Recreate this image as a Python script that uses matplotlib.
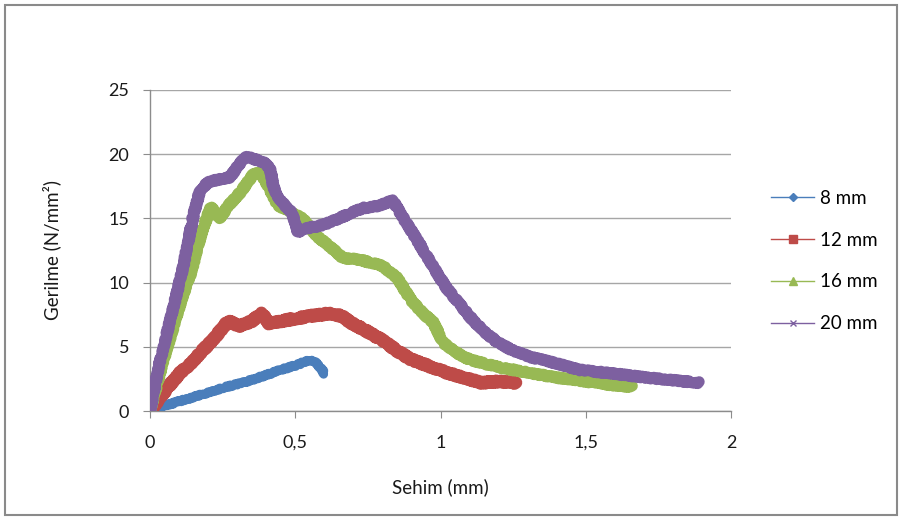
import matplotlib
matplotlib.use("Agg")
import matplotlib.pyplot as plt
from matplotlib.patches import Rectangle

# Sehim (mm) / Gerilme (N/mm²) readings for each specimen
x_8 = [0, 0.05, 0.1, 0.18, 0.25, 0.32, 0.4, 0.45, 0.5, 0.53, 0.55, 0.57, 0.59, 0.6]
y_8 = [0, 0.4, 0.75, 1.3, 1.8, 2.2, 2.8, 3.2, 3.55, 3.8, 3.95, 3.8, 3.3, 2.9]

x_12 = [0, 0.03, 0.06, 0.1, 0.14, 0.18, 0.22, 0.25, 0.27, 0.31, 0.35, 0.385, 0.41, 0.45,
        0.5, 0.55, 0.62, 0.66, 0.69, 0.74, 0.8, 0.85, 0.9, 0.96, 1.02, 1.08, 1.14, 1.2, 1.26]
y_12 = [0, 0.9, 1.8, 2.9, 3.7, 4.7, 5.6, 6.5, 7.0, 6.6, 7.0, 7.6, 6.8, 7.0,
        7.2, 7.4, 7.6, 7.4, 6.9, 6.3, 5.5, 4.7, 4.0, 3.5, 3.0, 2.6, 2.2, 2.3, 2.2]

x_16 = [0, 0.04, 0.08, 0.11, 0.14, 0.18, 0.21, 0.24, 0.27, 0.31, 0.355, 0.38, 0.41, 0.44,
        0.48, 0.53, 0.575, 0.62, 0.665, 0.72, 0.8, 0.85, 0.9, 0.94, 0.975, 1.01, 1.05,
        1.1, 1.2, 1.3, 1.4, 1.5, 1.6, 1.66]
y_16 = [0, 3.5, 6.5, 8.8, 10.7, 14.1, 15.9, 15.0, 16.0, 17.0, 18.4, 18.6, 17.4, 16.0,
        15.6, 14.9, 13.6, 12.8, 11.9, 11.8, 11.3, 10.4, 8.6, 7.6, 6.9, 5.3, 4.6,
        4.0, 3.4, 3.0, 2.6, 2.3, 2.0, 1.9]

x_20 = [0, 0.03, 0.07, 0.114, 0.148, 0.172, 0.2, 0.23, 0.275, 0.31, 0.333, 0.36, 0.39,
        0.413, 0.425, 0.448, 0.49, 0.51, 0.53, 0.58, 0.62, 0.68, 0.733, 0.79, 0.836,
        0.87, 0.92, 0.97, 1.02, 1.07, 1.11, 1.16, 1.2, 1.25, 1.31, 1.4, 1.48, 1.6,
        1.71, 1.8, 1.89]
y_20 = [0, 3.5, 7.1, 11.2, 15.1, 17.2, 17.8, 18.0, 18.2, 19.3, 19.8, 19.6, 19.4,
        18.9, 17.4, 16.4, 15.4, 13.9, 14.2, 14.4, 14.7, 15.3, 15.8, 16.0, 16.4,
        15.1, 13.3, 11.4, 9.6, 8.2, 7.1, 6.0, 5.3, 4.7, 4.2, 3.7, 3.2, 2.9,
        2.6, 2.4, 2.2]

series = [
    ("8 mm", x_8, y_8, "#4A7EBB", "D", 6.5, 4),
    ("12 mm", x_12, y_12, "#BE4B48", "s", 9.0, 5.5),
    ("16 mm", x_16, y_16, "#98B954", "^", 8.0, 6),
    ("20 mm", x_20, y_20, "#7D60A0", "x", 8.0, 5),
]

x_ticks = [0, 0.5, 1, 1.5, 2]
x_tick_labels = ["0", "0,5", "1", "1,5", "2"]
y_ticks = [0, 5, 10, 15, 20, 25]

plt.rcParams["font.family"] = ["Lato", "DejaVu Sans"]

fig = plt.figure(figsize=(9.02, 5.18), dpi=100)
fig.patch.set_facecolor("white")
fig.patches.append(Rectangle((5 / 902, 3 / 518), 892 / 902, 510 / 518,
                             transform=fig.transFigure, fill=False,
                             edgecolor="#8a8a8a", linewidth=1.5))

ax = fig.add_axes([150 / 902, 107 / 518, 581 / 902, 321 / 518])

for label, xs, ys, color, marker, lw, ms in series:
    line, = ax.plot(xs, ys, color=color, linewidth=lw, solid_joinstyle="round",
                    solid_capstyle="round", zorder=3)
    line.set_sketch_params(scale=1.0, length=4, randomness=3)

ax.set_xlim(0, 2)
ax.set_ylim(0, 25)
ax.set_xticks(x_ticks)
ax.set_xticklabels(x_tick_labels)
ax.set_yticks(y_ticks)
ax.grid(axis="y", color="#a6a6a6", linewidth=1.0)
ax.set_axisbelow(True)
for side in ("top", "right"):
    ax.spines[side].set_visible(False)
for side in ("left", "bottom"):
    ax.spines[side].set_color("#8c8c8c")
    ax.spines[side].set_linewidth(1.0)
ax.tick_params(axis="both", direction="out", length=5, color="#8c8c8c",
               labelsize=13, labelcolor="#1a1a1a")
ax.tick_params(axis="x", pad=12)
ax.tick_params(axis="y", pad=10)

ax.set_xlabel("Sehim (mm)", fontsize=13.5, color="#1a1a1a", labelpad=20)
ax.set_ylabel("Gerilme (N/mm²)", fontsize=13.5, color="#1a1a1a", labelpad=34)

# Legend entries with thin lines and markers
handles = []
for label, xs, ys, color, marker, lw, ms in series:
    h, = ax.plot([], [], color=color, linewidth=1.0, marker=marker,
                 markersize=ms, markeredgewidth=1.0, label=label)
    handles.append(h)
leg = fig.legend(handles=handles, loc="center left",
                 bbox_to_anchor=(771 / 902, 1 - 261 / 518), frameon=False,
                 borderaxespad=0, borderpad=0,
                 fontsize=13.5, handlelength=2.3, labelspacing=1.32,
                 handletextpad=0.3)

fig.savefig("out.png", dpi=100)
